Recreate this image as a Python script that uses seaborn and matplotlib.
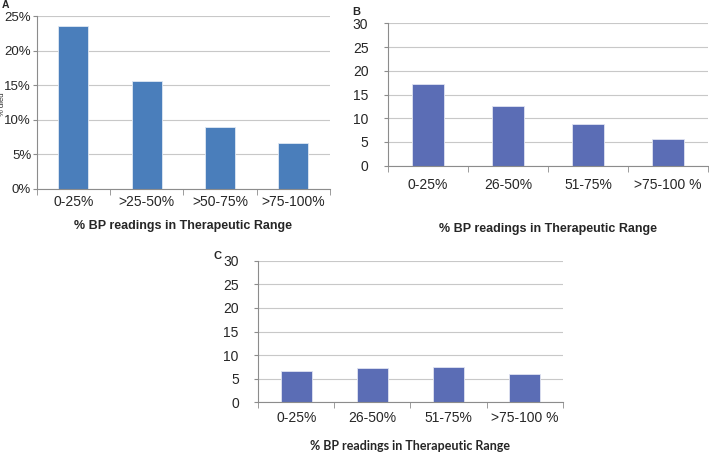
import matplotlib
matplotlib.use("Agg")
import matplotlib.pyplot as plt
import seaborn as sns
import pandas as pd
from matplotlib.ticker import PercentFormatter, MultipleLocator

# --- data ---
cats_a = ["0-25%", ">25-50%", ">50-75%", ">75-100%"]
died_a = [23.5, 15.6, 8.9, 6.6]

cats_bc = ["0-25%", "26-50%", "51-75%", ">75-100 %"]
vals_b = [17.2, 12.6, 8.85, 5.6]
vals_c = [6.6, 7.3, 7.5, 6.1]

xlab = "% BP readings in Therapeutic Range"

sns.set_style("white")
plt.rcParams["font.family"] = ["Liberation Sans", "DejaVu Sans"]

fig = plt.figure(figsize=(7.09, 4.70), dpi=100)
ax_a = fig.add_axes([0.0518, 0.5979, 0.4136, 0.368])
ax_b = fig.add_axes([0.547, 0.6474, 0.4517, 0.303])
ax_c = fig.add_axes([0.3643, 0.144, 0.4293, 0.3013])


def style_axis(ax, ymax, step, ypad, xpad, ysize=10):
    ax.set_ylim(0, ymax)
    ax.set_xlim(-0.5, len(ax.get_xticks()) - 0.5)
    ax.yaxis.set_major_locator(MultipleLocator(step))
    ax.grid(axis="y", color="#c8c8c8", linewidth=0.8)
    ax.set_axisbelow(True)
    for s in ["top", "right"]:
        ax.spines[s].set_visible(False)
    for s in ["left", "bottom"]:
        ax.spines[s].set_color("#8c8c8c")
        ax.spines[s].set_linewidth(0.8)
    ax.tick_params(axis="y", length=3, color="#8c8c8c", labelsize=ysize, pad=ypad, left=True)
    ax.tick_params(axis="x", which="major", length=0, labelsize=10, pad=xpad)
    ax.set_xticks([-0.5, 0.5, 1.5, 2.5, 3.5], minor=True)
    ax.tick_params(axis="x", which="minor", length=4, color="#8c8c8c", bottom=True)


# Panel A
df_a = pd.DataFrame({"range": cats_a, "died": died_a})
sns.barplot(data=df_a, x="range", y="died", color="#4A7EBB", saturation=1,
            width=0.41, edgecolor="#dfe8f3", linewidth=0.6, ax=ax_a)
style_axis(ax_a, 25, 5, ypad=1, xpad=4, ysize=9.5)
ax_a.yaxis.set_major_formatter(PercentFormatter(decimals=0))
ax_a.set_ylabel("% died", fontsize=5.5)
ax_a.yaxis.set_label_coords(-0.104, 0.49)
ax_a.set_xlabel(xlab, fontsize=9, fontweight="bold", labelpad=8)

# Panel B
df_b = pd.DataFrame({"range": cats_bc, "value": vals_b})
sns.barplot(data=df_b, x="range", y="value", color="#5B6DB5", saturation=1,
            width=0.4, edgecolor="#e0e3f1", linewidth=0.6, ax=ax_b)
style_axis(ax_b, 30, 5, ypad=11, xpad=9)
ax_b.set_ylabel("")
ax_b.set_xlabel(xlab, fontsize=9, fontweight="bold", labelpad=22)

# Panel C
df_c = pd.DataFrame({"range": cats_bc, "value": vals_c})
sns.barplot(data=df_c, x="range", y="value", color="#5B6DB5", saturation=1,
            width=0.4, edgecolor="#e0e3f1", linewidth=0.6, ax=ax_c)
style_axis(ax_c, 30, 5, ypad=11, xpad=6)
ax_c.set_ylabel("")
ax_c.set_xlabel(xlab, fontsize=9, fontweight="bold", labelpad=11,
                family=["Lato", "DejaVu Sans"])

# panel letters
fig.text(0.002, 0.999, "A", fontsize=7.5, fontweight="bold", va="top", ha="left")
fig.text(0.497, 0.985, "B", fontsize=8, fontweight="bold", va="top", ha="left")
fig.text(0.301, 0.465, "C", fontsize=8, fontweight="bold", va="top", ha="left")

fig.savefig("out.png", dpi=100, facecolor="white")
